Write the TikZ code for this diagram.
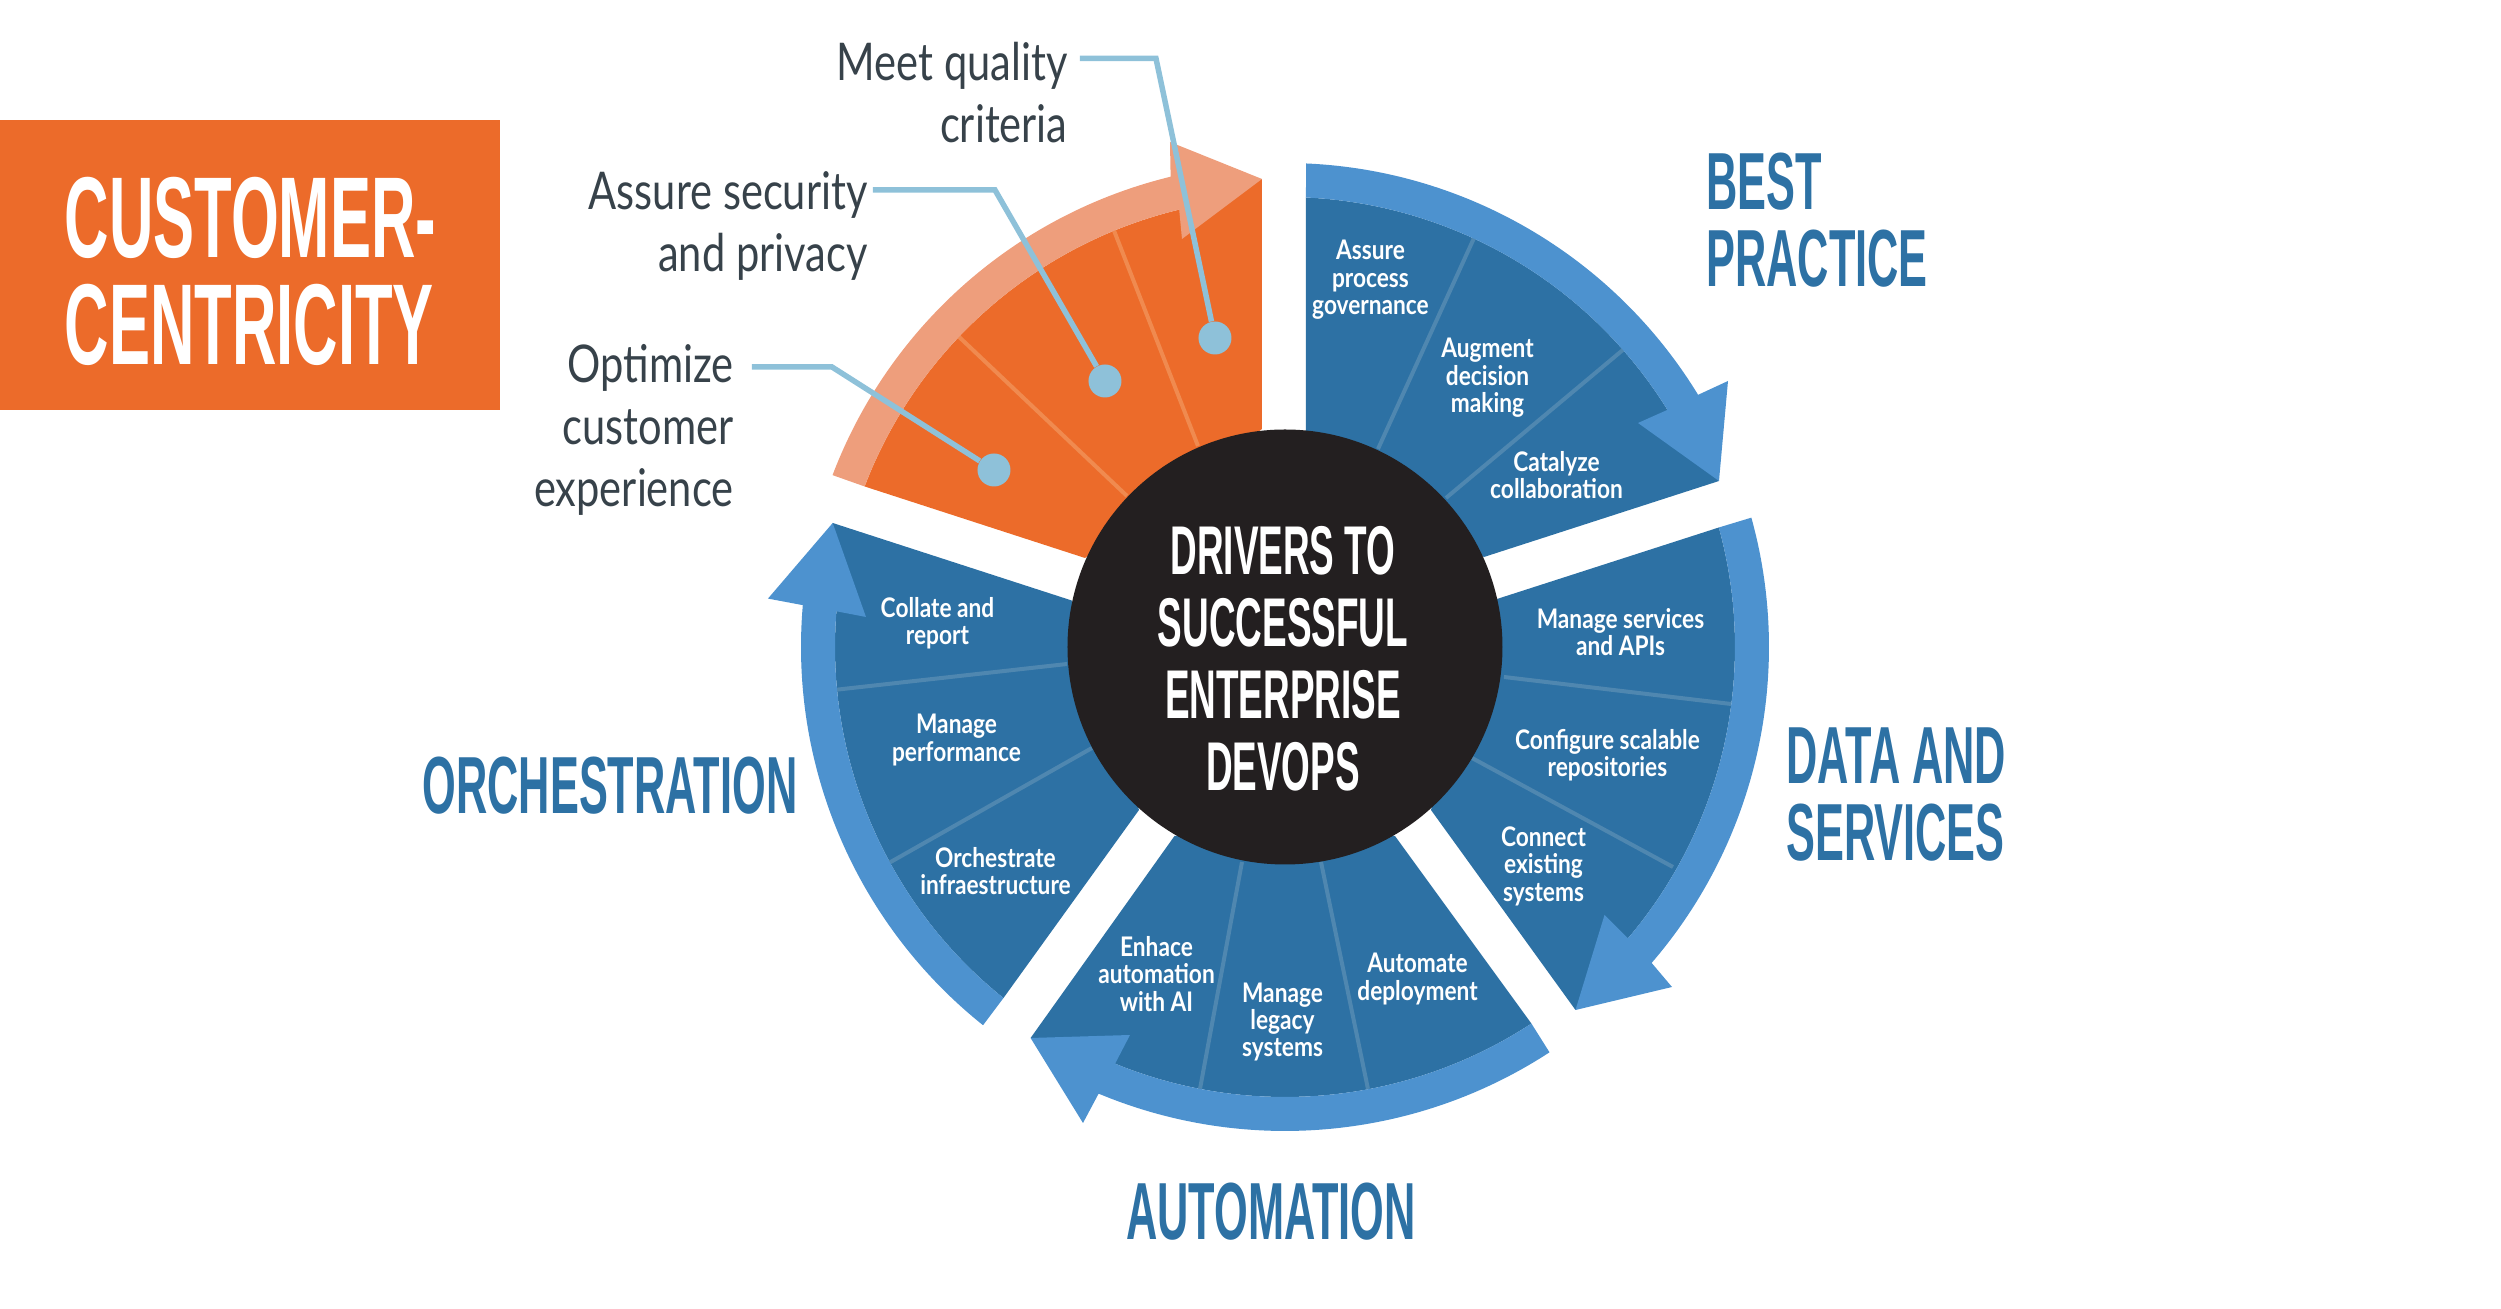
\documentclass[tikz,border=0pt]{standalone}
\usepackage{fontspec}
\setmainfont{Lato}
\newfontfamily\headfont[FakeStretch=0.535]{Liberation Sans}
\newfontfamily\itemfont[FakeStretch=0.84]{Lato}
\newfontfamily\notefont[FakeStretch=0.8]{Lato}
\definecolor{wheelblue}{HTML}{2D71A4}
\definecolor{arrowblue}{HTML}{4D92CF}
\definecolor{lineblue}{HTML}{4F87B0}
\definecolor{wheelorange}{HTML}{EC6B2A}
\definecolor{paleorange}{HTML}{EE9E7C}
\definecolor{lineorange}{HTML}{F08A4F}
\definecolor{hubblack}{HTML}{231F20}
\definecolor{leaderblue}{HTML}{8EC1D9}
\definecolor{notegray}{HTML}{37424A}
\tikzset{
  wheeldiv/.style={draw=lineblue,line width=2pt},
  orangediv/.style={draw=lineorange,line width=2pt},
  itemlabel/.style={text=white,align=center,inner sep=0pt,font=\itemfont\bfseries\fontsize{13.5}{13.7}\selectfont},
  notelabel/.style={text=notegray,align=right,anchor=east,inner sep=0pt,font=\notefont\fontsize{26}{31}\selectfont},
  grouplabel/.style={text=wheelblue,align=left,anchor=west,inner sep=0pt,font=\headfont\bfseries\fontsize{40.5}{38.5}\selectfont},
  leader/.style={draw=leaderblue,line width=2.75pt},
  leaderdot/.style={circle,fill=leaderblue,minimum size=16.5pt,inner sep=0pt}
}
\begin{document}
\begin{tikzpicture}[x=0.5pt,y=0.5pt]
    \useasboundingbox (-1285,-662) rectangle (1216,647);

    % Best practice
    \fill[wheelblue] (21,200) -- (87.33:450) arc[start angle=87.33,end angle=31.8,radius=450] -- (434,166) -- (199,90) -- cycle;
    \draw[wheeldiv] (93,198) -- (189.5,410);
    \draw[wheeldiv] (161,149) -- (339,298);
    \fill[arrowblue] (87.5:484) arc[start angle=87.5,end angle=31.4,radius=484] -- (443,266) -- (434,166) -- (353,224) -- (31.8:450) arc[start angle=31.8,end angle=87.33,radius=450] -- cycle;

    % Data and services
    \fill[wheelblue] (212,48) -- (15.4:450) arc[start angle=15.4,end angle=-40.35,radius=450] -- (290.5,-363) -- (146,-163) -- cycle;
    \draw[wheeldiv] (219,-30) -- (446,-57);
    \draw[wheeldiv] (187,-111) -- (388,-220);
    \fill[arrowblue] (15.5:484) arc[start angle=15.5,end angle=-40.75,radius=484] -- (387,-340) -- (290.5,-363) -- (319.5,-268) -- (-40.35:450) arc[start angle=-40.35,end angle=15.4,radius=450] -- cycle;

    % Automation
    \fill[wheelblue] (110,-189) -- (-56.8:450) arc[start angle=-56.8,end angle=-112.18,radius=450] -- (-254.4,-391) -- (-110.5,-189) -- cycle;
    \draw[wheeldiv] (-43,-215) -- (-85,-442);
    \draw[wheeldiv] (36,-215) -- (83,-442);
    \fill[arrowblue] (-56.87:484) arc[start angle=-56.87,end angle=-112.65,radius=484] -- (-202,-476) -- (-254.4,-391) -- (-155,-388) -- (-112.18:450) arc[start angle=-112.18,end angle=-56.8,radius=450] -- cycle;

    % Orchestration
    \fill[wheelblue] (-146,-163) -- (231.27:450) arc[start angle=231.27,end angle=175.45,radius=450] -- (-452.3,124) -- (-213.3,46.5) -- cycle;
    \draw[wheeldiv] (-218,-17) -- (-451,-43);
    \draw[wheeldiv] (-193,-101) -- (-397,-216.5);
    \fill[arrowblue] (231.4:484) arc[start angle=231.4,end angle=175.04,radius=484] -- (-517,48.4) -- (-452.3,124) -- (-419,30) -- (175.45:450) arc[start angle=175.45,end angle=231.27,radius=450] -- cycle;

    % Customer-centricity
    \fill[wheelorange] (-23,218) -- (-23,468) -- (103.6:450) arc[start angle=103.6,end angle=159.1,radius=450] -- (-200,89) -- cycle;
    \draw[orangediv] (-87,201) -- (-172,419);
    \draw[orangediv] (-158,151) -- (-329,313);
    \fill[paleorange] (103.67:484) arc[start angle=103.67,end angle=159.2,radius=484] -- (159.1:450) arc[start angle=159.1,end angle=103.6,radius=450] -- (-103,408) -- (-23,468) -- (-115,505) -- cycle;

    % Hub
    \node[circle,fill=hubblack,minimum size=217.5pt,inner sep=0pt] (hub) at (0,0) {};
    \node[text=white,align=center,inner sep=0pt,font=\headfont\bfseries\fontsize{34.5}{36}\selectfont] (hubtext) at (-2,-12) {DRIVERS TO\\SUCCESSFUL\\ENTERPRISE\\DEVOPS};

    % Items
    \node[itemlabel] (assure) at (85.5,367) {Assure\\process\\governance};
    \node[itemlabel] (augment) at (202.5,269) {Augment\\decision\\making};
    \node[itemlabel] (catalyze) at (271.5,172) {Catalyze\\collaboration};
    \node[itemlabel] (services) at (335.5,15) {Manage services\\and APIs};
    \node[itemlabel] (configure) at (322.5,-108) {Configure scalable\\repositories};
    \node[itemlabel] (connect) at (258.5,-219) {Connect\\existing\\systems};
    \node[itemlabel] (deploy) at (132.5,-332) {Automate\\deployment};
    \node[itemlabel] (legacy) at (-2.5,-375) {Manage\\legacy\\systems};
    \node[itemlabel] (enhace) at (-128.5,-327) {Enhace\\automation\\with AI};
    \node[itemlabel] (infra) at (-289.5,-224) {Orchestrate\\infraestructure};
    \node[itemlabel] (perf) at (-328.5,-93) {Manage\\performance};
    \node[itemlabel] (collate) at (-347.5,24) {Collate and\\report};

    % Groups
    \node[grouplabel] (best) at (421,427) {BEST\\PRACTICE};
    \node[grouplabel] (data) at (501,-148) {DATA AND\\SERVICES};
    \node[grouplabel,anchor=center] (automation) at (-14,-565) {AUTOMATION};
    \node[grouplabel,anchor=center] (orchestration) at (-675,-139) {ORCHESTRATION};

    % Banner
    \node[fill=wheelorange,minimum width=250.5pt,minimum height=145pt,inner sep=0pt] (banner) at (-1035,382) {};
    \node[text=white,align=left,inner sep=0pt,font=\headfont\bfseries\fontsize{57.5}{53.5}\selectfont] (bannertext) at (-1034.5,376) {CUSTOMER-\\CENTRICITY};

    % Notes
    \node[notelabel] (quality) at (-217,554) {Meet quality\\criteria};
    \node[notelabel] (security) at (-417,421) {Assure security\\and privacy};
    \node[notelabel] (optimize) at (-551,217) {Optimize\\customer\\experience};

    \node[leaderdot] (dotquality) at (-70,309) {};
    \node[leaderdot] (dotsecurity) at (-180,266) {};
    \node[leaderdot] (dotoptimize) at (-291,177) {};
    \coordinate (startquality) at (-205,588.5);
    \coordinate (startsecurity) at (-412,457);
    \coordinate (startoptimize) at (-533,280);
    \draw[leader] (startquality) -- (-129,588.5) -- (dotquality);
    \draw[leader] (startsecurity) -- (-290,457) -- (dotsecurity);
    \draw[leader] (startoptimize) -- (-453,280) -- (dotoptimize);
\end{tikzpicture}
\end{document}
